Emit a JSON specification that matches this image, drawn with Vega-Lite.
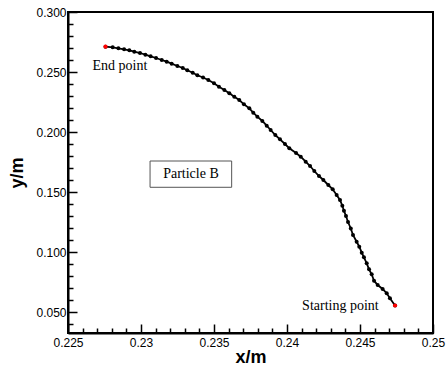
{
  "$schema": "https://vega.github.io/schema/vega-lite/v6.json",
  "width": 365,
  "height": 321,
  "autosize": {"type": "none"},
  "padding": {"left": 68, "top": 12, "right": 14, "bottom": 35},
  "background": "white",
  "config": {"view": {"stroke": "black", "strokeWidth": 2}},
  "resolve": {"axis": {"x": "independent", "y": "independent"}},
  "datasets": {
    "traj": [
      {"i": 1, "x": 0.22757, "y": 0.27108},
      {"i": 2, "x": 0.22806, "y": 0.27058},
      {"i": 3, "x": 0.22845, "y": 0.26975},
      {"i": 4, "x": 0.22884, "y": 0.26892},
      {"i": 5, "x": 0.22920, "y": 0.26808},
      {"i": 6, "x": 0.22954, "y": 0.26692},
      {"i": 7, "x": 0.22993, "y": 0.26583},
      {"i": 8, "x": 0.23030, "y": 0.26442},
      {"i": 9, "x": 0.23066, "y": 0.26308},
      {"i": 10, "x": 0.23103, "y": 0.26167},
      {"i": 11, "x": 0.23142, "y": 0.26000},
      {"i": 12, "x": 0.23176, "y": 0.25858},
      {"i": 13, "x": 0.23210, "y": 0.25692},
      {"i": 14, "x": 0.23249, "y": 0.25500},
      {"i": 15, "x": 0.23286, "y": 0.25333},
      {"i": 16, "x": 0.23317, "y": 0.25142},
      {"i": 17, "x": 0.23354, "y": 0.24942},
      {"i": 18, "x": 0.23386, "y": 0.24725},
      {"i": 19, "x": 0.23425, "y": 0.24542},
      {"i": 20, "x": 0.23461, "y": 0.24333},
      {"i": 21, "x": 0.23500, "y": 0.24058},
      {"i": 22, "x": 0.23534, "y": 0.23775},
      {"i": 23, "x": 0.23571, "y": 0.23500},
      {"i": 24, "x": 0.23605, "y": 0.23225},
      {"i": 25, "x": 0.23639, "y": 0.22942},
      {"i": 26, "x": 0.23673, "y": 0.22667},
      {"i": 27, "x": 0.23705, "y": 0.22308},
      {"i": 28, "x": 0.23742, "y": 0.21975},
      {"i": 29, "x": 0.23769, "y": 0.21608},
      {"i": 30, "x": 0.23797, "y": 0.21275},
      {"i": 31, "x": 0.23831, "y": 0.20917},
      {"i": 32, "x": 0.23861, "y": 0.20525},
      {"i": 33, "x": 0.23888, "y": 0.20167},
      {"i": 34, "x": 0.23920, "y": 0.19750},
      {"i": 35, "x": 0.23952, "y": 0.19392},
      {"i": 36, "x": 0.23986, "y": 0.19000},
      {"i": 37, "x": 0.24016, "y": 0.18642},
      {"i": 38, "x": 0.24062, "y": 0.18250},
      {"i": 39, "x": 0.24094, "y": 0.17942},
      {"i": 40, "x": 0.24128, "y": 0.17525},
      {"i": 41, "x": 0.24158, "y": 0.17167},
      {"i": 42, "x": 0.24187, "y": 0.16750},
      {"i": 43, "x": 0.24219, "y": 0.16333},
      {"i": 44, "x": 0.24249, "y": 0.16000},
      {"i": 45, "x": 0.24283, "y": 0.15583},
      {"i": 46, "x": 0.24313, "y": 0.15225},
      {"i": 47, "x": 0.24340, "y": 0.14750},
      {"i": 48, "x": 0.24363, "y": 0.14333},
      {"i": 49, "x": 0.24379, "y": 0.13858},
      {"i": 50, "x": 0.24390, "y": 0.13442},
      {"i": 51, "x": 0.24404, "y": 0.13000},
      {"i": 52, "x": 0.24418, "y": 0.12500},
      {"i": 53, "x": 0.24437, "y": 0.11958},
      {"i": 54, "x": 0.24452, "y": 0.11417},
      {"i": 55, "x": 0.24477, "y": 0.10858},
      {"i": 56, "x": 0.24495, "y": 0.10442},
      {"i": 57, "x": 0.24512, "y": 0.09942},
      {"i": 58, "x": 0.24527, "y": 0.09558},
      {"i": 59, "x": 0.24546, "y": 0.09058},
      {"i": 60, "x": 0.24562, "y": 0.08558},
      {"i": 61, "x": 0.24580, "y": 0.08142},
      {"i": 62, "x": 0.24596, "y": 0.07608},
      {"i": 63, "x": 0.24621, "y": 0.07250},
      {"i": 64, "x": 0.24655, "y": 0.06917},
      {"i": 65, "x": 0.24683, "y": 0.06558},
      {"i": 66, "x": 0.24705, "y": 0.06142},
      {"i": 67, "x": 0.24740, "y": 0.05542}
    ],
    "ends": [
      {"x": 0.22757, "y": 0.27108},
      {"x": 0.24740, "y": 0.05542}
    ],
    "notes": [
      {"x": 0.22856, "y": 0.2550, "label": "End point"},
      {"x": 0.24366, "y": 0.0550, "label": "Starting point"},
      {"x": 0.23342, "y": 0.1650, "label": "Particle B"}
    ],
    "box": [
      {"x": 0.23062, "x2": 0.23621, "y": 0.17583, "y2": 0.15392}
    ]
  },
  "layer": [
    {
      "data": {"name": "box"},
      "mark": {"type": "rect", "fill": "white", "stroke": "#555555", "strokeWidth": 1},
      "encoding": {
        "x": {
          "field": "x", "type": "quantitative",
          "scale": {"domain": [0.225, 0.25], "nice": false, "zero": false},
          "axis": {
            "orient": "bottom",
            "title": "x/m",
            "titleFont": "Liberation Sans", "titleFontSize": 18, "titleFontWeight": "bold", "titleColor": "black",
            "titlePadding": 0,
            "values": [0.225, 0.23, 0.235, 0.24, 0.245, 0.25],
            "format": "~g",
            "labelFont": "Liberation Sans", "labelFontSize": 12, "labelColor": "black",
            "labelOverlap": false, "labelFlush": false, "labelPadding": 13,
            "tickColor": "black", "tickWidth": 1.5, "tickSize": -9,
            "domainColor": "black", "domainWidth": 2, "grid": false
          }
        },
        "x2": {"field": "x2"},
        "y": {
          "field": "y", "type": "quantitative",
          "scale": {"domain": [0.0325, 0.3], "nice": false, "zero": false},
          "axis": {
            "orient": "left",
            "title": "y/m",
            "titleFont": "Liberation Sans", "titleFontSize": 18, "titleFontWeight": "bold", "titleColor": "black",
            "titlePadding": 9,
            "values": [0.05, 0.1, 0.15, 0.2, 0.25, 0.3],
            "format": ".3f",
            "labelFont": "Liberation Sans", "labelFontSize": 12, "labelColor": "black",
            "labelOverlap": false, "labelFlush": false, "labelPadding": 11,
            "tickColor": "black", "tickWidth": 1.5, "tickSize": -9,
            "domainColor": "black", "domainWidth": 2, "grid": false
          }
        },
        "y2": {"field": "y2"}
      }
    },
    {
      "data": {"name": "traj"},
      "mark": {"type": "line", "color": "black", "strokeWidth": 1.8},
      "encoding": {
        "x": {
          "field": "x", "type": "quantitative",
          "axis": {
            "orient": "bottom", "title": null, "labels": false, "domain": false, "grid": false,
            "values": [0.226,0.227,0.228,0.229,0.231,0.232,0.233,0.234,0.236,0.237,0.238,0.239,0.241,0.242,0.243,0.244,0.246,0.247,0.248,0.249],
            "tickColor": "black", "tickWidth": 1.5, "tickSize": -5
          }
        },
        "y": {
          "field": "y", "type": "quantitative",
          "axis": {
            "orient": "left", "title": null, "labels": false, "domain": false, "grid": false,
            "values": [0.04,0.06,0.07,0.08,0.09,0.11,0.12,0.13,0.14,0.16,0.17,0.18,0.19,0.21,0.22,0.23,0.24,0.26,0.27,0.28,0.29],
            "tickColor": "black", "tickWidth": 1.5, "tickSize": -5
          }
        },
        "order": {"field": "i", "type": "quantitative"}
      }
    },
    {
      "data": {"name": "traj"},
      "mark": {"type": "circle", "color": "black", "size": 16, "opacity": 1},
      "encoding": {
        "x": {"field": "x", "type": "quantitative", "axis": null},
        "y": {"field": "y", "type": "quantitative", "axis": null}
      }
    },
    {
      "data": {"name": "ends"},
      "mark": {"type": "circle", "color": "red", "size": 18, "opacity": 1},
      "encoding": {
        "x": {"field": "x", "type": "quantitative", "axis": null},
        "y": {"field": "y", "type": "quantitative", "axis": null}
      }
    },
    {
      "data": {"name": "notes"},
      "mark": {"type": "text", "font": "Liberation Serif", "fontSize": 14, "color": "black", "align": "center", "baseline": "middle"},
      "encoding": {
        "x": {"field": "x", "type": "quantitative", "axis": null},
        "y": {"field": "y", "type": "quantitative", "axis": null},
        "text": {"field": "label"}
      }
    }
  ]
}
